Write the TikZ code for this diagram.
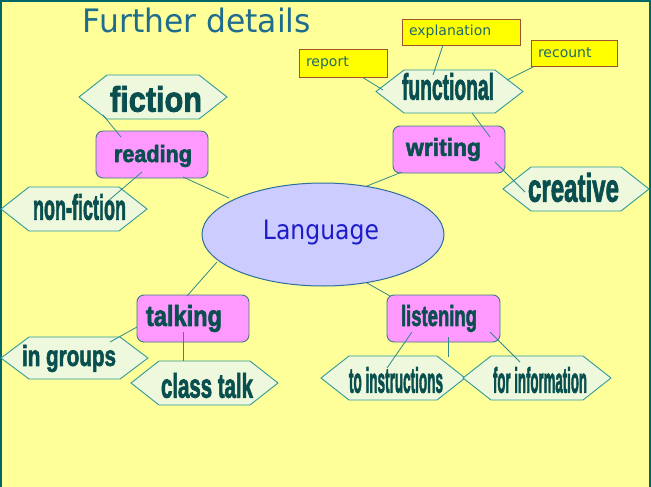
\documentclass[tikz,border=0pt]{standalone}
\usepackage{fontspec}
\usepackage{graphicx}
\setmainfont{Liberation Sans}
\newfontfamily\comic{DejaVu Sans}
\newfontfamily\wafont{Liberation Sans}[BoldFeatures={FakeBold=2.5}]
\usetikzlibrary{shapes.geometric}
\definecolor{bgc}{HTML}{FFFF99}
\definecolor{framec}{HTML}{006666}
\definecolor{pinkc}{HTML}{FF99FF}
\definecolor{boxborder}{HTML}{3E7A8A}
\definecolor{hexfill}{HTML}{EEF8DC}
\definecolor{hexborder}{HTML}{2F9A9A}
\definecolor{ellfill}{HTML}{CCCCFF}
\definecolor{ellborder}{HTML}{2E6E9E}
\definecolor{linec}{HTML}{2E8A8A}
\definecolor{wordc}{HTML}{0A4F4F}
\definecolor{yellowbox}{HTML}{FFFF00}
\definecolor{yellowborder}{HTML}{A0522D}
\definecolor{smalltext}{HTML}{1F6B6B}
\definecolor{titlec}{HTML}{1E6C8E}
\definecolor{langc}{HTML}{1C1CC8}
\pgfdeclarelayer{back}
\pgfdeclarelayer{shapes}
\pgfsetlayers{back,shapes,main}
\newcommand{\wa}[3]{\resizebox*{#1pt}{#2pt}{\wafont\bfseries #3}}
\newcommand{\hexpath}[1]{\path[hexst] (#1.west) -- ([xshift=28pt]#1.north west) -- ([xshift=-28pt]#1.north east) -- (#1.east) -- ([xshift=-28pt]#1.south east) -- ([xshift=28pt]#1.south west) -- cycle;}
\tikzset{
  hexnode/.style={inner sep=0pt, outer sep=0pt, draw=none},
  hexst/.style={fill=hexfill, draw=hexborder, line width=0.9pt},
  roundbox/.style={inner sep=0pt, outer sep=0pt, fill=pinkc, draw=boxborder, line width=0.9pt, rounded corners=7pt, minimum width=112pt, minimum height=47pt},
  wordart/.style={inner sep=0pt, text=wordc},
  conn/.style={draw=linec, line width=0.8pt},
  smallbox/.style={fill=yellowbox, draw=yellowborder, line width=0.9pt, inner xsep=7pt, inner ysep=0pt, text=smalltext, font=\comic\fontsize{14}{14}\selectfont, align=left},
}
\begin{document}
\begin{tikzpicture}[x=1pt,y=-1pt]
\useasboundingbox (0,0) rectangle (651,487);
\begin{pgfonlayer}{back}
\fill[bgc] (0,0) rectangle (651,487);
\draw[framec, line width=2pt] (1,487) -- (1,1) -- (650,1) -- (650,487);
\end{pgfonlayer}

% title
\node[inner sep=0pt, text=titlec] (title) at (197,20.5) {\resizebox*{228pt}{25pt}{\comic Further details}};

% central ellipse
\node[ellipse, inner sep=0pt, minimum width=242pt, minimum height=103pt, fill=ellfill, draw=ellborder, line width=1pt] (language) at (323,234.5) {};
\node[inner sep=0pt, text=langc] (language-t) at (321,232.5) {\resizebox*{116pt}{25pt}{\comic Language}};

% small yellow boxes
\node[smallbox, text width=74pt, minimum height=28pt] (report) at (343,63) {report};
\node[smallbox, text width=104pt, minimum height=26pt] (explanation) at (461,32) {explanation};
\node[smallbox, text width=72pt, minimum height=26pt] (recount) at (574,53) {recount};

% word art labels
\node[wordart] (fiction-t) at (156,99) {\wa{92}{26}{fiction}};
\node[wordart] (reading-t) at (153,156) {\wa{78}{22}{reading}};
\node[wordart] (nonfiction-t) at (79.5,207) {\wa{93}{26}{non-fiction}};
\node[wordart] (writing-t) at (443.5,149.5) {\wa{75}{23}{writing}};
\node[wordart] (functional-t) at (448,86.5) {\wa{92}{27}{functional}};
\node[wordart] (creative-t) at (573.5,187.5) {\wa{91}{29}{creative}};
\node[wordart] (talking-t) at (184,318.5) {\wa{76}{27}{talking}};
\node[wordart] (ingroups-t) at (69,358.5) {\wa{94}{27}{in groups}};
\node[wordart] (classtalk-t) at (207,385.5) {\wa{92}{25}{class talk}};
\node[wordart] (listening-t) at (439,318.5) {\wa{76}{27}{listening}};
\node[wordart] (toinstr-t) at (396,380) {\wa{94}{26}{to instructions}};
\node[wordart] (forinfo-t) at (540,380) {\wa{94}{26}{for information}};

\begin{pgfonlayer}{shapes}
% rounded boxes
\node[roundbox] (reading) at (152,154.5) {};
\node[roundbox] (writing) at (449,149.5) {};
\node[roundbox] (talking) at (193,318.5) {};
\node[roundbox, minimum width=113pt] (listening) at (443.5,318.5) {};
% hexagons
\node[hexnode, minimum width=148pt, minimum height=44pt] (fiction) at (153,97) {};
\node[hexnode, minimum width=146pt, minimum height=44pt] (nonfiction) at (74,209) {};
\node[hexnode, minimum width=147pt, minimum height=43pt] (functional) at (449.5,91.5) {};
\node[hexnode, minimum width=146pt, minimum height=44pt] (creative) at (576,189) {};
\node[hexnode, minimum width=147pt, minimum height=42pt] (ingroups) at (74.5,358) {};
\node[hexnode, minimum width=147pt, minimum height=44pt] (classtalk) at (204.5,383) {};
\node[hexnode, minimum width=144pt, minimum height=44pt] (toinstr) at (393,378) {};
\node[hexnode, minimum width=148pt, minimum height=44pt] (forinfo) at (537,378) {};
\hexpath{fiction}
\hexpath{nonfiction}
\hexpath{functional}
\hexpath{creative}
\hexpath{ingroups}
\hexpath{classtalk}
\hexpath{toinstr}
\hexpath{forinfo}
% connectors
\draw[conn] ([shift={(-50,18)}]fiction.center) -- ([shift={(-31,-17.5)}]reading.center);
\draw[conn] ([shift={(-10,17.5)}]reading.center) -- ([shift={(34,-8)}]nonfiction.center);
\draw[conn] ([shift={(31,22.5)}]reading.center) -- ([shift={(-94,-36.5)}]language.center);
\draw[conn] ([shift={(-47,22.5)}]writing.center) -- ([shift={(44,-48.5)}]language.center);
\draw[conn] ([shift={(22.5,21.5)}]functional.center) -- ([shift={(41,-12.5)}]writing.center);
\draw[conn] ([shift={(46,12.5)}]writing.center) -- ([shift={(-51,3)}]creative.center);
\draw[conn] ([shift={(19,14)}]report.center) -- ([shift={(-66.5,-1.5)}]functional.center);
\draw[conn] ([shift={(-18,13)}]explanation.center) -- ([shift={(-16.5,-16.5)}]functional.center);
\draw[conn] ([shift={(-39,13)}]recount.center) -- ([shift={(57.5,-11.5)}]functional.center);
\draw[conn] ([shift={(-106,27.5)}]language.center) -- ([shift={(-6,-22.5)}]talking.center);
\draw[conn] ([shift={(-56,8.5)}]talking.center) -- ([shift={(35.5,-16)}]ingroups.center);
\draw[conn] ([shift={(-10,13.5)}]talking.center) -- ([shift={(-21.5,-22)}]classtalk.center);
\draw[conn] ([shift={(44,48.5)}]language.center) -- ([shift={(-53.5,-22.5)}]listening.center);
\draw[conn] ([shift={(-31.5,13.5)}]listening.center) -- ([shift={(-6,-10)}]toinstr.center);
\draw[conn] ([shift={(4.5,18.5)}]listening.center) -- ([shift={(55,-21)}]toinstr.center);
\draw[conn] ([shift={(46.5,13.5)}]listening.center) -- ([shift={(-17,-16)}]forinfo.center);
\end{pgfonlayer}
\end{tikzpicture}
\end{document}
